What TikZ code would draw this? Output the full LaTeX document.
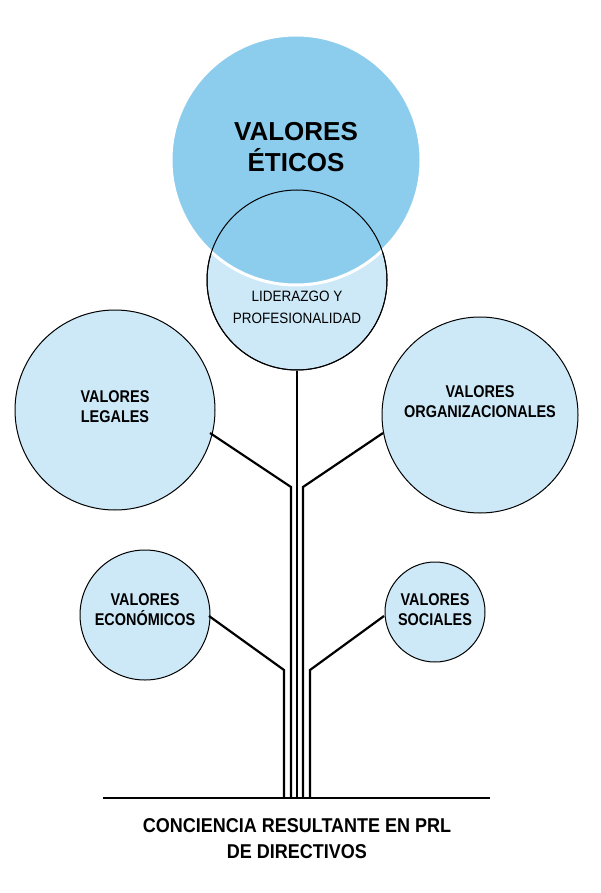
\documentclass[tikz,border=0pt]{standalone}
\usepackage{fontspec}
\setmainfont{Liberation Sans}
\begin{document}
\begin{tikzpicture}[x=1pt,y=-1pt,
  lb/.style={draw=black,line width=1pt,fill=light,circle,inner sep=0pt},
  lbl/.style={font=\bfseries\fontsize{17}{20}\selectfont,align=center,xscale=0.85},
  br/.style={line width=2.2pt}]
\definecolor{light}{HTML}{CDE9F8}
\definecolor{big}{HTML}{8CCDEE}
\useasboundingbox (0,0) rectangle (600,893);
\node[lb,minimum size=180pt] (lid) at (297,280) {};
\path[fill=big,draw=white,line width=3pt] (296,160) circle (125);
\node[draw=black,line width=1pt,circle,minimum size=180pt,inner sep=0pt] (lidb) at (297,280) {};
\node[font=\bfseries\fontsize{26}{31}\selectfont,align=center] (eti) at (296,147) {VALORES\\ÉTICOS};
\node[font=\fontsize{15}{22}\selectfont,align=center,xscale=0.9] at (297,307) {LIDERAZGO Y\\PROFESIONALIDAD};
\node[lb,minimum size=200pt] (leg) at (115,410) {};
\node[lbl] at (115,407) {VALORES\\LEGALES};
\node[lb,minimum size=196pt] (org) at (480,415) {};
\node[lbl] at (480,402) {VALORES\\ORGANIZACIONALES};
\node[lb,minimum size=130pt] (eco) at (145,615) {};
\node[lbl] at (145,610) {VALORES\\ECONÓMICOS};
\node[lb,minimum size=100pt] (soc) at (435,612) {};
\node[lbl] at (435,610) {VALORES\\SOCIALES};
\coordinate (b1) at (210,433); \coordinate (b2) at (383,433);
\coordinate (b3) at (209,616); \coordinate (b4) at (384,616);
\draw[br] (b1) -- (291,487) -- (291,798);
\draw[br] (b2) -- (303,487) -- (303,798);
\draw[br] (b3) -- (284,670) -- (284,798);
\draw[br] (b4) -- (310,670) -- (310,798);
\draw[br] (lidb.south) -- (297,798);
\coordinate (g1) at (103,798); \coordinate (g2) at (490,798);
\draw[br] (g1) -- (g2);
\node[font=\bfseries\fontsize{20}{26}\selectfont,align=center,xscale=0.9] at (297,839) {CONCIENCIA RESULTANTE EN PRL\\DE DIRECTIVOS};
\end{tikzpicture}
\end{document}
